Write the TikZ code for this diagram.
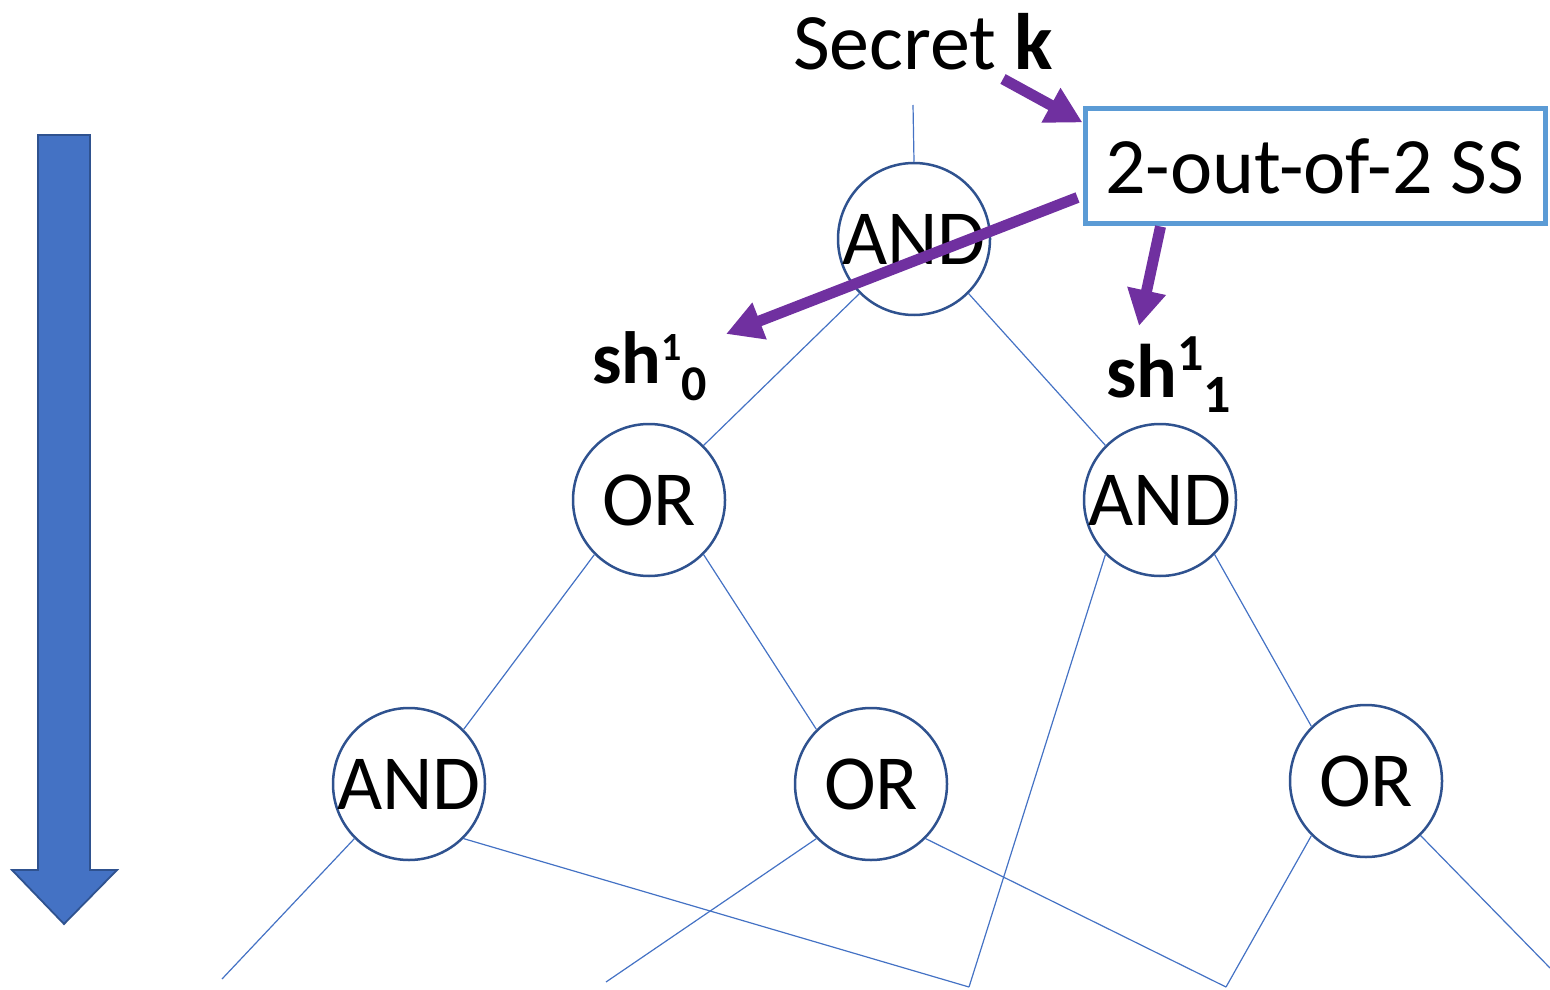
\documentclass[tikz,border=0pt]{standalone}
\usepackage{fontspec}
\setmainfont{Carlito}
\usetikzlibrary{arrows.meta,calc}
\definecolor{gateline}{HTML}{2F528F}
\definecolor{wireblue}{HTML}{4472C4}
\definecolor{ssbox}{HTML}{5B9BD5}
\definecolor{share}{HTML}{7030A0}

\begin{document}
\begin{tikzpicture}[x=0.5pt,y=-0.5pt,
  gate/.style={circle, draw=gateline, line width=1.25pt, fill=white,
    minimum size=76pt, inner sep=0pt, font=\fontsize{39}{47}\selectfont},
  wire/.style={draw=wireblue, line width=0.6pt},
  sharearrow/.style={draw=share, line width=5.5pt,
    -{Triangle[length=18pt,width=18.5pt]}},
  sharelabel/.style={anchor=base west, inner sep=0pt},
  ]
\useasboundingbox (0,0) rectangle (1550,989);

% direction of evaluation
\filldraw[fill=wireblue, draw=gateline, line width=0.9pt]
  (38,135) -- (90,135) -- (90,870) -- (117,870) -- (64,924)
  -- (12,870) -- (38,870) -- cycle;

% gates of the access tree
\node[gate] (g1) at (914,239) {AND};
\node[gate] (g2) at (649,500) {OR};
\node[gate] (g3) at (1160,500) {AND};
\node[gate] (g4) at (409,784) {AND};
\node[gate] (g5) at (871,784) {OR};
\node[gate] (g6) at (1366,781) {OR};

% loose wire ends
\coordinate (root) at (913,105);
\coordinate (la) at (222,979);
\coordinate (lb) at (606,982);
\coordinate (lc) at (969,987);
\coordinate (ld) at (1226,987);
\coordinate (le) at (1550,968);

\draw[wire] (root) -- (g1.north);
\draw[wire] (g1.south west) -- (g2.north east);
\draw[wire] (g1.south east) -- (g3.north west);
\draw[wire] (g2.south west) -- (g4.north east);
\draw[wire] (g2.south east) -- (g5.north west);
\draw[wire] (g3.south west) -- (lc);
\draw[wire] (g3.south east) -- (g6.north west);
\draw[wire] (g4.south west) -- (la);
\draw[wire] (g4.south east) -- (lc);
\draw[wire] (g5.south west) -- (lb);
\draw[wire] (g5.south east) -- (ld);
\draw[wire] (g6.south west) -- (ld);
\draw[wire] (g6.south east) -- (le);

% secret sharing box and secret
\node[draw=ssbox, line width=2.5pt, minimum width=230pt, minimum height=57.5pt,
  inner sep=0pt, font=\fontsize{40}{48}\selectfont] (ss) at (1315,166.5) {2-out-of-2 SS};
\node[anchor=base, inner sep=0pt, font=\fontsize{40}{48}\selectfont] (secret)
  at (923,70) {Secret \textbf{k}};

% shares
\node[sharelabel, font=\bfseries\fontsize{37}{40}\selectfont] (sh0) at (592,383)
  {sh\raisebox{11.5pt}{\fontsize{20}{20}\selectfont 1}\raisebox{-8.5pt}{\fontsize{25}{25}\selectfont 0}};
\node[sharelabel, font=\bfseries\fontsize{38}{42}\selectfont] (sh1) at (1106,397)
  {sh\raisebox{13.5pt}{\fontsize{26}{26}\selectfont 1}\raisebox{-7.5pt}{\fontsize{27}{27}\selectfont 1}};

\coordinate (kfoot) at (1003,79);
\coordinate (sh0tip) at (726,334);
\coordinate (sh1tip) at (1139,326);

\draw[sharearrow] (kfoot) -- ($(ss.north west)+(0,16)$);
\draw[sharearrow] ($(ss.west)+(-5,31)$) -- (sh0tip);
\draw[sharearrow] ($(ss.south west)+(78,0)$) -- (sh1tip);
\end{tikzpicture}
\end{document}
